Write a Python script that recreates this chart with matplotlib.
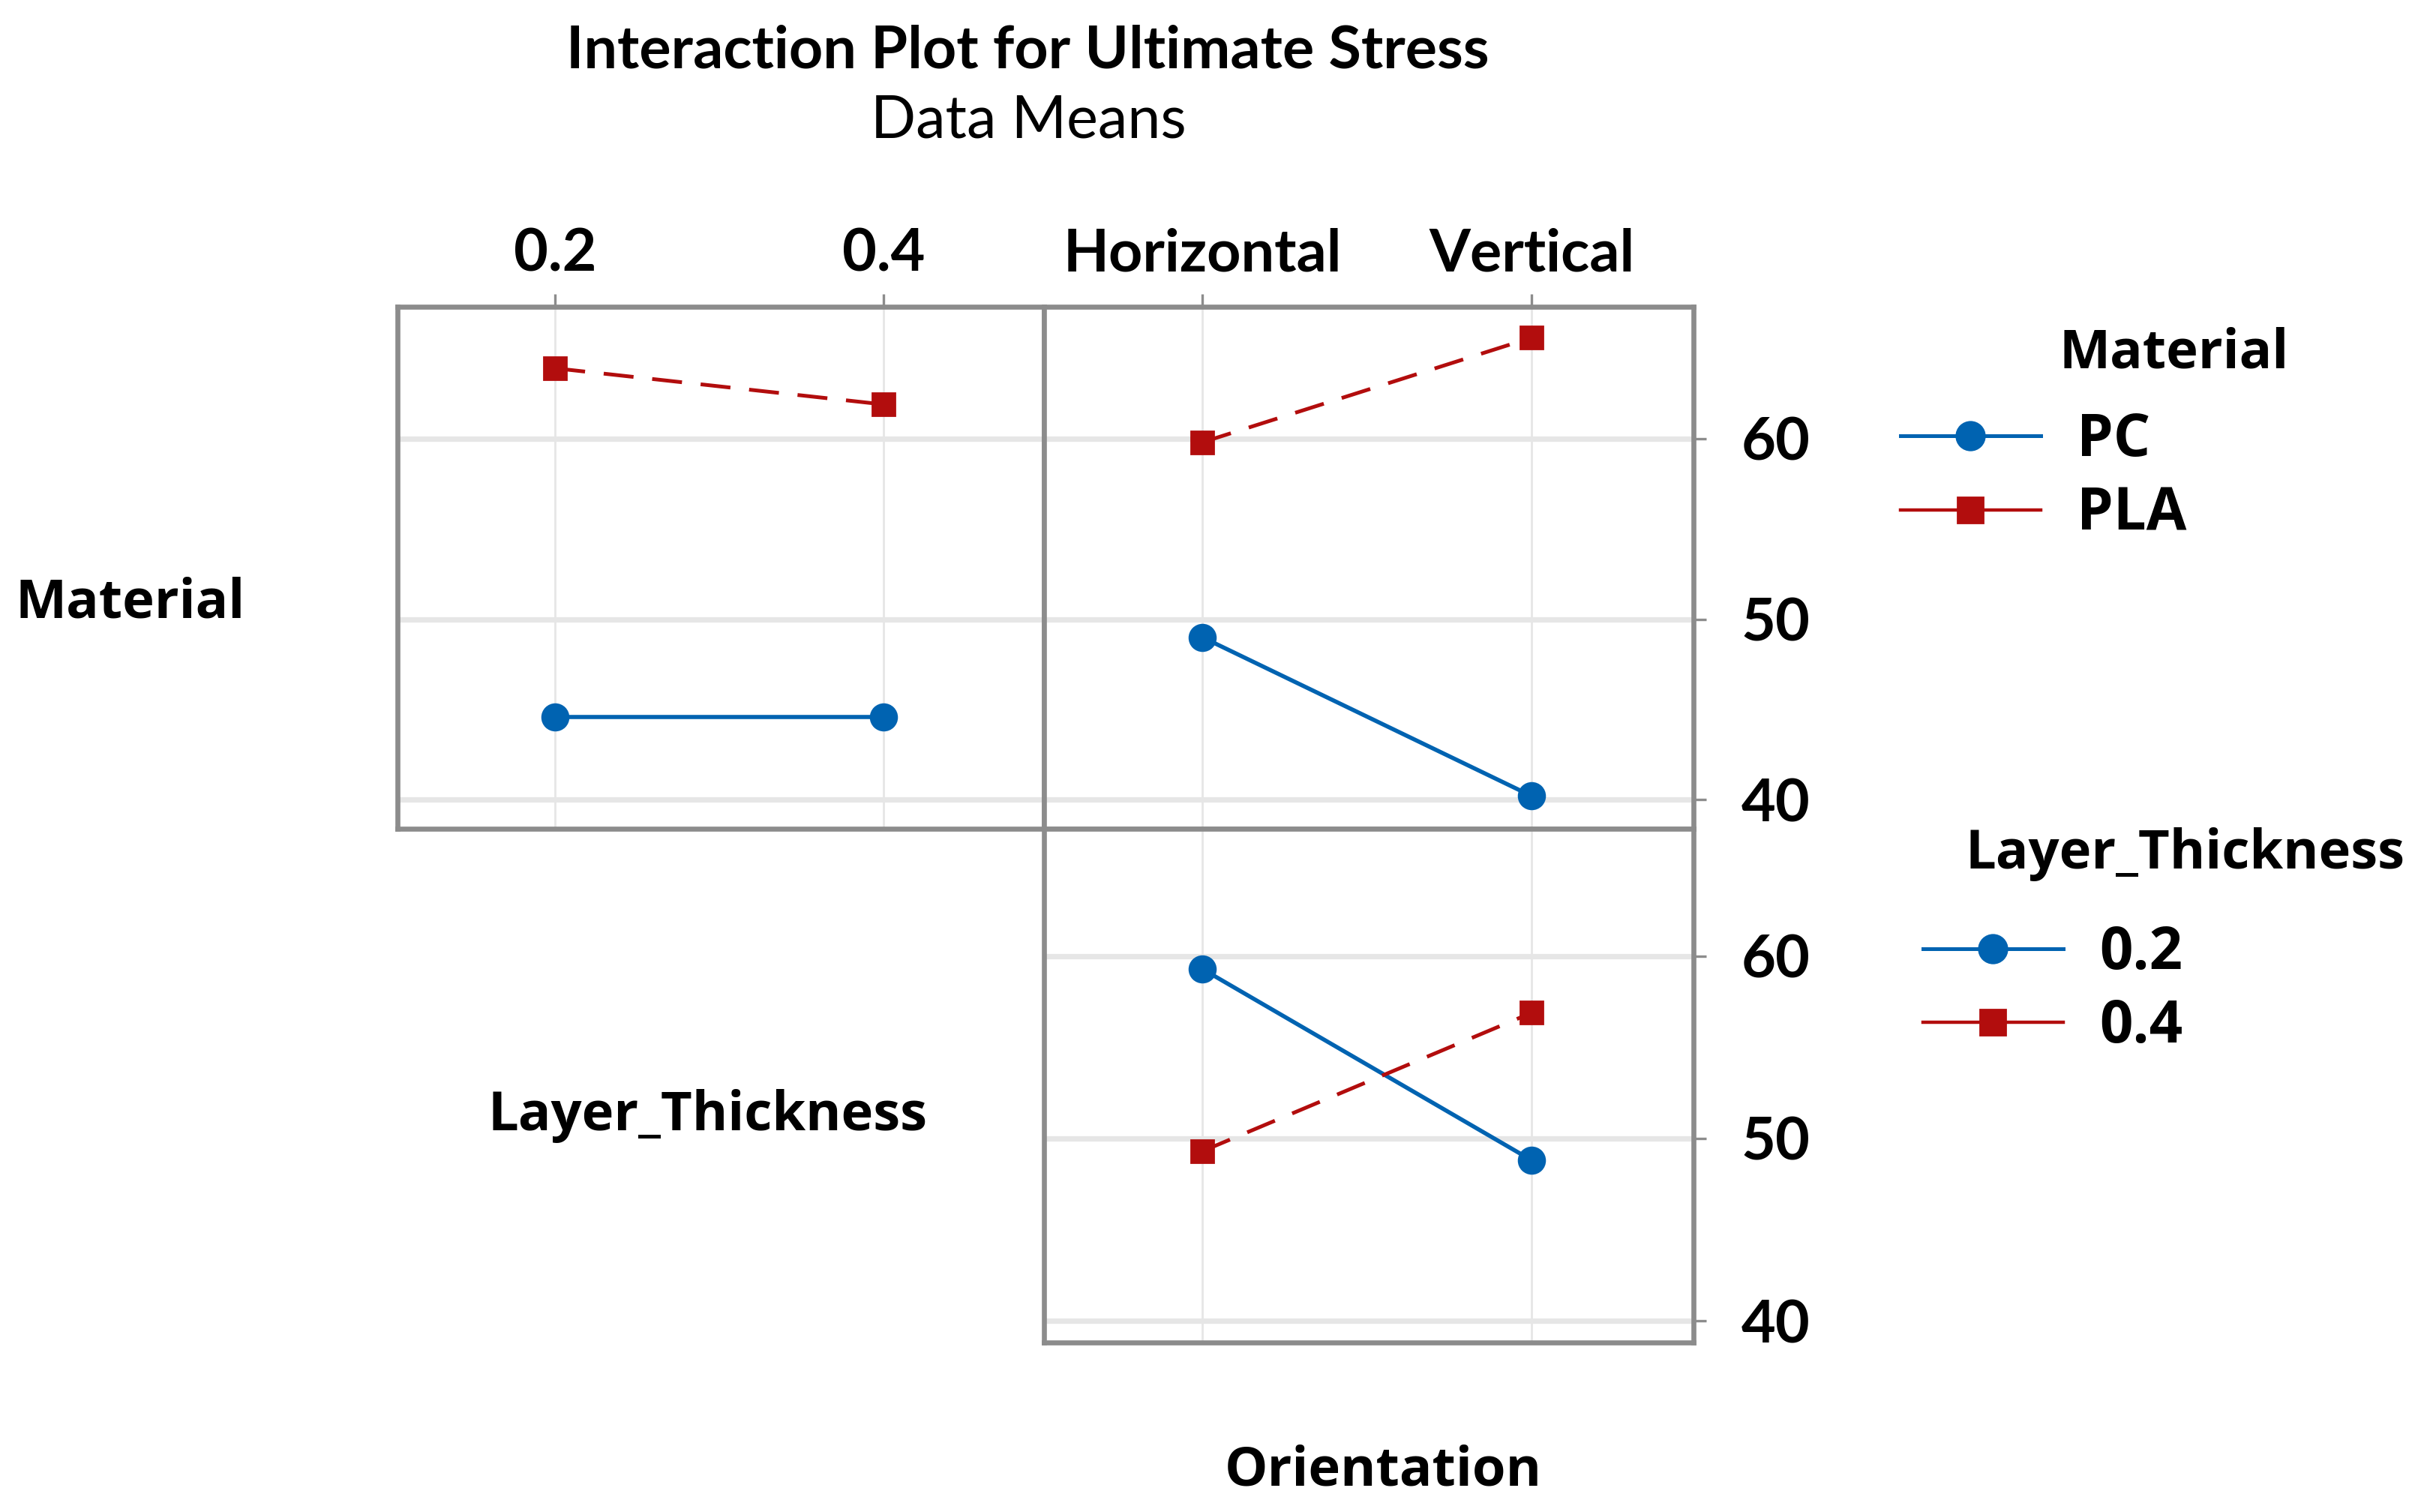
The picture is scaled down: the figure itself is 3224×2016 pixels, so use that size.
import matplotlib
matplotlib.use('Agg')
import matplotlib.pyplot as plt
from matplotlib.lines import Line2D

plt.rcParams['font.family'] = ['Open Sans', 'DejaVu Sans']

# factor levels
thickness = ['0.2', '0.4']
orientation = ['Horizontal', 'Vertical']
materials = ['PC', 'PLA']

# data means
pc_by_thick = [44.6, 44.6]
pla_by_thick = [63.9, 61.9]
pc_by_orient = [49.0, 40.2]
pla_by_orient = [59.8, 65.6]
t02_by_orient = [59.3, 48.8]
t04_by_orient = [49.3, 56.9]

yticks = [40, 50, 60]

blue = '#0063B1'
red = '#B20D0D'
frame = '#8c8c8c'
tick_font = dict(fontfamily='Lato', fontweight='bold', fontsize=28.5)

fig = plt.figure(figsize=(16.12, 10.08), dpi=200)
ax_tl = fig.add_axes([0.1645, 0.452, 0.2673, 0.345])
ax_tr = fig.add_axes([0.4318, 0.452, 0.2685, 0.345])
ax_br = fig.add_axes([0.4318, 0.112, 0.2685, 0.340])


def blue_line(ax, x, y):
    ax.plot(x, y, color=blue, lw=2.0, marker='o', ms=12.5, zorder=3)


def red_line(ax, x, y):
    ax.plot(x, y, color=red, lw=1.8, marker='s', ms=11, dashes=(8, 5), zorder=3)


blue_line(ax_tl, thickness, pc_by_thick)
red_line(ax_tl, thickness, pla_by_thick)
blue_line(ax_tr, orientation, pc_by_orient)
red_line(ax_tr, orientation, pla_by_orient)
blue_line(ax_br, orientation, t02_by_orient)
red_line(ax_br, orientation, t04_by_orient)


def style(ax, labels, top, right, ylim):
    ax.set_xlim(-0.48, 1.49)
    ax.set_ylim(*ylim)
    ax.set_xticks(range(len(labels)), labels, **tick_font)
    ax.set_yticks(yticks, [str(t) for t in yticks], **tick_font)
    ax.grid(axis='y', color='#e6e6e6', lw=2.6)
    ax.grid(axis='x', color='#e6e6e6', lw=1.0)
    ax.set_axisbelow(True)
    for s in ax.spines.values():
        s.set_color(frame)
        s.set_linewidth(2.4)
    ax.tick_params(axis='x', bottom=False, labelbottom=False, top=top, labeltop=top,
                   direction='out', length=6, width=1.2, color=frame, pad=6)
    ax.tick_params(axis='y', left=False, labelleft=False, right=right, labelright=right,
                   direction='out', length=6, width=1.2, color=frame, pad=17)


style(ax_tl, thickness, top=True, right=False, ylim=(38.4, 67.3))
style(ax_tr, orientation, top=True, right=True, ylim=(38.4, 67.3))
style(ax_br, orientation, top=False, right=True, ylim=(38.8, 67.0))

# titles and factor labels
fig.text(0.425, 0.966, 'Interaction Plot for Ultimate Stress', ha='center', va='center',
         fontfamily='Lato', fontweight='bold', fontsize=28.5)
fig.text(0.4254, 0.920, 'Data Means', ha='center', va='center', fontfamily='Lato', fontsize=28.5)
lab_font = dict(fontweight='bold', fontsize=26)
fig.text(0.0064, 0.601, 'Material', ha='left', va='center', **lab_font)
fig.text(0.2927, 0.262, 'Layer_Thickness', ha='center', va='center', **lab_font)
fig.text(0.572, 0.027, 'Orientation', ha='center', va='center', **lab_font)

# legends
def handles():
    return [Line2D([], [], color=blue, lw=1.8, marker='o', ms=13.5),
            Line2D([], [], color=red, lw=1.6, marker='s', ms=12.5)]


leg_kw = dict(loc='upper left', frameon=False, prop=dict(weight='bold', size=28),
              handlelength=2.4, handletextpad=0.62, labelspacing=0.25,
              borderpad=0, borderaxespad=0)
fig.legend(handles(), materials, bbox_to_anchor=(0.786, 0.728), **leg_kw)
fig.legend(handles(), thickness, bbox_to_anchor=(0.7953, 0.389), **leg_kw)
fig.text(0.8992, 0.766, 'Material', ha='center', va='center', **lab_font)
fig.text(0.9037, 0.435, 'Layer_Thickness', ha='center', va='center', **lab_font)

fig.savefig('out.png', dpi=200)
